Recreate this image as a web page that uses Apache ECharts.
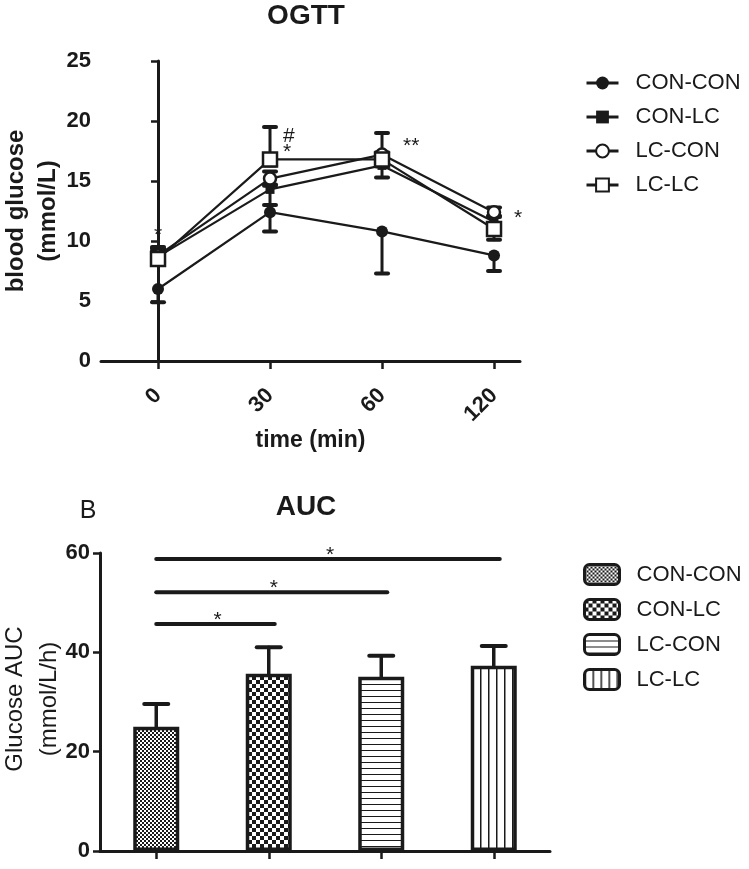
<!DOCTYPE html>
<html><head><meta charset="utf-8">
<script src="https://cdn.jsdelivr.net/npm/echarts@6/dist/echarts.min.js"></script>
<style>html,body{margin:0;padding:0;background:#fff}#c{width:749px;height:869px}</style>
</head><body><div id="c"></div>
<script>
// ---------- data ----------
const timeLabels = ['0', '30', '60', '120'];
const groups = ['CON-CON', 'CON-LC', 'LC-CON', 'LC-LC'];

const ogttConCon   = [6.0, 12.4, 10.8, 8.8];
const ogttConConLo = [1.1, 1.6, 3.5, 1.3];
const ogttConConHi = [0, 0, 0, 0];
const ogttConLc    = [8.7, 14.3, 16.3, 11.6];
const ogttConLcLo  = [0.5, 1.3, 1.0, 0.6];
const ogttConLcHi  = [0.5, 0.4, 0.5, 0.5];
const ogttLcCon    = [8.8, 15.2, 17.2, 12.4];
const ogttLcConLo  = [0.5, 0.6, 0.6, 0.4];
const ogttLcConHi  = [0.6, 0.6, 1.8, 0.4];
const ogttLcLc     = [8.5, 16.8, 16.8, 11.0];
const ogttLcLcLo   = [0.4, 0.5, 0.6, 0.9];
const ogttLcLcHi   = [1.0, 2.7, 0.6, 0.5];

const ogttMarkIdx  = [0, 1, 1, 2, 3];
const ogttMarkVal  = [10.8, 19.1, 17.7, 18.2, 12.2];
const ogttMarkText = ['*', '#', '*', '**', '*'];

const aucMean = [25.0, 35.7, 35.1, 37.3];
const aucErr  = [4.6, 5.3, 4.2, 4.0];

const sigFrom = [0, 0, 0];
const sigTo   = [3, 2, 1];
const sigY    = [58.8, 52.1, 45.7];
const sigText = ['*', '*', '*'];

const yTicksTop = [0, 25, 5];     // min, max, step
const yTicksAuc = [0, 60, 20];

const topYName = 'blood glucose\n(mmol/L)';
const aucYName = 'Glucose AUC\n(mmol/L/h)';

// ---------- styles ----------
const INK = '#1a1a1a';
const FONT = '"Liberation Sans", Arial, Helvetica, sans-serif';
const ZW = '\u200b';
const ogttMarkDx = [0, 13, 13, 21, 20];

function makePattern(kind) {
  const c = document.createElement('canvas');
  const ctx = c.getContext('2d');
  if (kind === 'fine') {
    c.width = 4; c.height = 4;
    ctx.fillStyle = '#fff'; ctx.fillRect(0, 0, 4, 4);
    ctx.fillStyle = INK; ctx.fillRect(0, 0, 2, 2); ctx.fillRect(2, 2, 2, 2);
  } else if (kind === 'coarse') {
    c.width = 8; c.height = 8;
    ctx.fillStyle = '#fff'; ctx.fillRect(0, 0, 8, 8);
    ctx.fillStyle = INK; ctx.fillRect(0, 0, 4, 4); ctx.fillRect(4, 4, 4, 4);
  } else if (kind === 'hlines') {
    c.width = 6; c.height = 6;
    ctx.fillStyle = '#fff'; ctx.fillRect(0, 0, 6, 6);
    ctx.fillStyle = INK; ctx.fillRect(0, 0, 6, 1);
  } else {
    c.width = 8; c.height = 8;
    ctx.fillStyle = '#fff'; ctx.fillRect(0, 0, 8, 8);
    ctx.fillStyle = INK; ctx.fillRect(0, 0, 1.5, 8);
  }
  return { image: c, repeat: 'repeat' };
}
const patterns = [makePattern('fine'), makePattern('coarse'), makePattern('hlines'), makePattern('vlines')];

const lineSpecs = [
  { name: 'CON-CON', v: ogttConCon, lo: ogttConConLo, hi: ogttConConHi, symbol: 'circle', size: 12, fill: INK, bw: 0 },
  { name: 'CON-LC',  v: ogttConLc,  lo: ogttConLcLo,  hi: ogttConLcHi,  symbol: 'rect',   size: 9,  fill: INK, bw: 0 },
  { name: 'LC-CON',  v: ogttLcCon,  lo: ogttLcConLo,  hi: ogttLcConHi,  symbol: 'circle', size: 12, fill: '#fff', bw: 2.5 },
  { name: 'LC-LC',   v: ogttLcLc,   lo: ogttLcLcLo,   hi: ogttLcLcHi,   symbol: 'rect',   size: 14, fill: '#fff', bw: 2.5 }
];

function capLine(x1, y1, x2, y2, w) {
  return { type: 'line', shape: { x1, y1, x2, y2 }, style: { stroke: INK, lineWidth: w, lineCap: 'round' } };
}

const series = [];
lineSpecs.forEach(s => {
  series.push({
    type: 'custom', name: s.name + ' err', xAxisIndex: 0, yAxisIndex: 0,
    data: s.v.map((m, i) => [i, m, s.lo[i], s.hi[i]]),
    encode: { x: 0, y: 1 }, silent: true,
    renderItem: (params, api) => {
      const x = api.value(0), m = api.value(1), lo = api.value(2), hi = api.value(3);
      const p = api.coord([x, m]);
      const kids = [];
      if (lo > 0) {
        const q = api.coord([x, m - lo]);
        kids.push(capLine(p[0], p[1], q[0], q[1], 3));
        kids.push(capLine(q[0] - 6, q[1], q[0] + 6, q[1], 4));
      }
      if (hi > 0) {
        const q = api.coord([x, m + hi]);
        kids.push(capLine(p[0], p[1], q[0], q[1], 3));
        kids.push(capLine(q[0] - 6, q[1], q[0] + 6, q[1], 4));
      }
      return { type: 'group', children: kids };
    }
  });
  series.push({
    type: 'line', name: s.name, xAxisIndex: 0, yAxisIndex: 0,
    data: s.v.map((m, i) => [i, m]),
    symbol: s.symbol, symbolSize: s.size,
    itemStyle: { color: s.fill, borderColor: INK, borderWidth: s.bw, opacity: 1 },
    lineStyle: { color: INK, width: 2.2 },
    emphasis: { disabled: true }
  });
});

series.push({
  type: 'custom', name: 'ogtt-marks', xAxisIndex: 0, yAxisIndex: 0,
  data: ogttMarkIdx.map((x, i) => [x, ogttMarkVal[i]]),
  encode: { x: 0, y: 1 }, silent: true,
  renderItem: (params, api) => {
    const i = params.dataIndex;
    const p = api.coord([api.value(0), api.value(1)]);
    return { type: 'text', x: p[0] + ogttMarkDx[i], y: p[1] + 4,
      style: { text: ogttMarkText[i], fill: INK, font: '21px ' + FONT, align: ogttMarkDx[i] ? 'left' : 'center', verticalAlign: 'middle' } };
  }
});

groups.forEach((g, i) => {
  series.push({
    type: 'bar', name: g + ZW, xAxisIndex: 1, yAxisIndex: 1,
    data: aucMean.map((v, j) => (j === i ? v : null)),
    barWidth: 46, barGap: '-100%',
    itemStyle: { color: patterns[i], borderColor: INK, borderWidth: 3.5 },
    emphasis: { disabled: true }
  });
});

series.push({
  type: 'custom', name: 'auc-err', xAxisIndex: 1, yAxisIndex: 1,
  data: aucMean.map((m, i) => [i, m, aucErr[i]]),
  encode: { x: 0, y: 1 }, silent: true, z: 3,
  renderItem: (params, api) => {
    const x = api.value(0), m = api.value(1), e = api.value(2);
    const p = api.coord([x, m]), q = api.coord([x, m + e]);
    return { type: 'group', children: [
      capLine(p[0], p[1], q[0], q[1], 3.5),
      capLine(q[0] - 12, q[1], q[0] + 12, q[1], 4)
    ] };
  }
});

series.push({
  type: 'custom', name: 'auc-sig', xAxisIndex: 1, yAxisIndex: 1,
  data: sigFrom.map((f, i) => [f, sigY[i], sigTo[i]]),
  encode: { x: 0, y: 1 }, silent: true, z: 3,
  renderItem: (params, api) => {
    const i = params.dataIndex;
    const a = api.coord([api.value(0), api.value(1)]);
    const b = api.coord([api.value(2), api.value(1)]);
    return { type: 'group', children: [
      capLine(a[0], a[1], b[0] + 6, b[1], 4),
      { type: 'text', x: (a[0] + b[0]) / 2 + 5, y: a[1] - 4,
        style: { text: sigText[i], fill: INK, font: '21px ' + FONT, align: 'center', verticalAlign: 'middle' } }
    ] };
  }
});

const axisLine = { show: true, lineStyle: { color: INK, width: 3 } };
const tickStyle = { color: INK, width: 2.5 };

const option = {
  animation: false,
  backgroundColor: '#fff',
  textStyle: { fontFamily: FONT },
  graphic: [
    { type: 'text', x: 306, y: 16, style: { text: 'OGTT', font: 'bold 28px ' + FONT, fill: INK, align: 'center', verticalAlign: 'middle' } },
    { type: 'text', x: 306, y: 507, style: { text: 'AUC', font: 'bold 28px ' + FONT, fill: INK, align: 'center', verticalAlign: 'middle' } },
    { type: 'text', x: 88, y: 511, style: { text: 'B', font: '25px ' + FONT, fill: INK, align: 'center', verticalAlign: 'middle' } },
    { type: 'text', x: 32, y: 211, rotation: Math.PI / 2,
      style: { text: topYName, font: 'bold 24px ' + FONT, fill: INK, align: 'center', verticalAlign: 'middle', lineHeight: 32 } },
    { type: 'text', x: 32, y: 699, rotation: Math.PI / 2,
      style: { text: aucYName, font: '24px ' + FONT, fill: INK, align: 'center', verticalAlign: 'middle', lineHeight: 34 } }
  ],
  grid: [
    { left: 101, top: 61, width: 419, height: 300, outerBoundsMode: 'none', containLabel: false },
    { left: 100, top: 553, width: 450, height: 298, outerBoundsMode: 'none', containLabel: false }
  ],
  xAxis: [
    { type: 'value', gridIndex: 0, min: -0.509, max: 3.232,
      axisLine, splitLine: { show: false },
      axisTick: { show: true, length: 8, lineStyle: tickStyle, customValues: [0, 1, 2, 3] },
      axisLabel: { customValues: [0, 1, 2, 3], rotate: 45, margin: 31, fontSize: 22, fontWeight: 'bold', color: INK,
        formatter: v => timeLabels[Math.round(v)] },
      name: 'time (min)', nameLocation: 'middle', nameGap: 66,
      nameTextStyle: { fontSize: 23, fontWeight: 'bold', color: INK } },
    { type: 'category', gridIndex: 1, data: groups,
      axisLine, axisTick: { show: true, alignWithLabel: true, length: 8, lineStyle: tickStyle },
      axisLabel: { show: false } }
  ],
  yAxis: [
    { type: 'value', gridIndex: 0, min: yTicksTop[0], max: yTicksTop[1], interval: yTicksTop[2],
      axisLine, splitLine: { show: false },
      axisTick: { show: true, length: 7, lineStyle: tickStyle },
      axisLabel: { margin: 10, fontSize: 22, fontWeight: 'bold', color: INK } },
    { type: 'value', gridIndex: 1, min: yTicksAuc[0], max: yTicksAuc[1], interval: yTicksAuc[2],
      axisLine, splitLine: { show: false },
      axisTick: { show: true, length: 7, lineStyle: tickStyle },
      axisLabel: { margin: 10, fontSize: 22, fontWeight: 'bold', color: INK } }
  ],
  legend: [
    { data: groups, orient: 'vertical', left: 580, top: 67, itemWidth: 32, itemHeight: 16, itemGap: 12,
      selectedMode: false, lineStyle: { width: 3 },
      textStyle: { fontSize: 22, color: INK, fontFamily: FONT, padding: [0, 0, 0, 12] } },
    { data: groups.map(g => g + ZW), orient: 'vertical', left: 578, top: 558, itemWidth: 35, itemHeight: 20, itemGap: 12,
      icon: 'roundRect', selectedMode: false,
      itemStyle: { borderColor: INK, borderWidth: 3 },
      formatter: n => n.replace(ZW, ''),
      textStyle: { fontSize: 22, color: INK, fontFamily: FONT, padding: [0, 0, 0, 12] } }
  ],
  series
};

const chart = echarts.init(document.getElementById('c'), null, { renderer: 'canvas' });
chart.setOption(option);
</script>
</body></html>
